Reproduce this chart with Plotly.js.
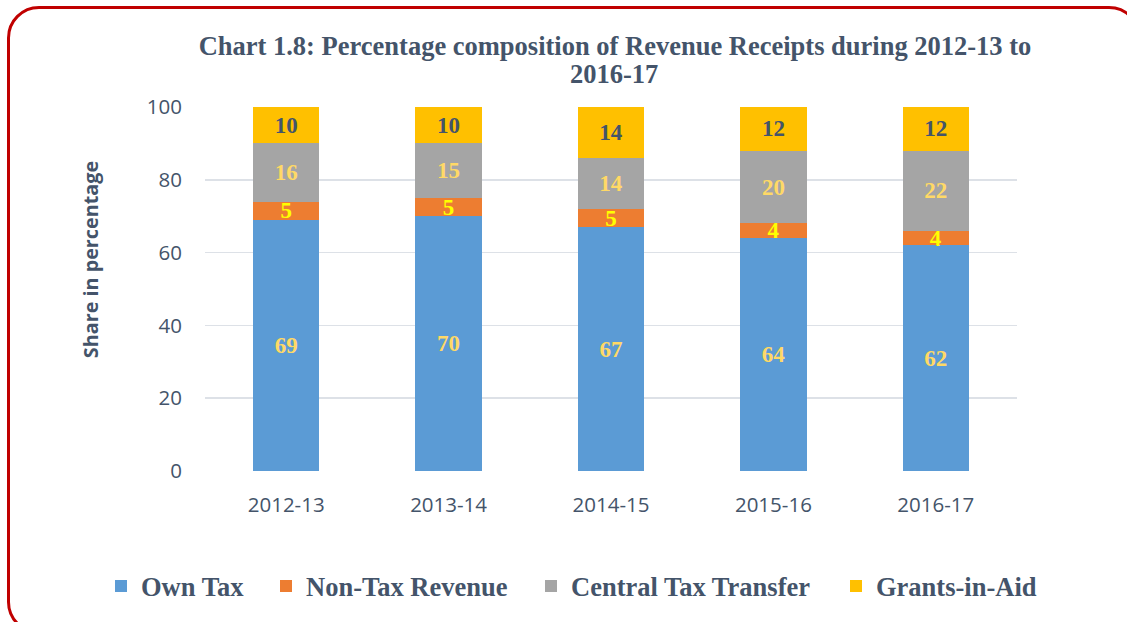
<!DOCTYPE html>
<html>
<head>
<meta charset="utf-8">
<script src="https://cdn.plot.ly/plotly-3.0.1.min.js"></script>
<style>
  html, body { margin: 0; padding: 0; width: 1127px; height: 622px; overflow: hidden; background: #fff; }
  #chart { position: absolute; left: 0; top: 0; width: 1127px; height: 622px; }
  #frame { position: absolute; left: 7px; top: 6px; width: 1134px; height: 628px; box-sizing: border-box;
           border: 3px solid #c00000; border-radius: 32px; pointer-events: none; }
</style>
</head>
<body>
<div id="chart"></div>
<div id="frame"></div>
<script>
const years = ['2012-13', '2013-14', '2014-15', '2015-16', '2016-17'];
const ownTax = [69, 70, 67, 64, 62];
const nonTaxRevenue = [5, 5, 5, 4, 4];
const centralTaxTransfer = [16, 15, 14, 20, 22];
const grantsInAid = [10, 10, 14, 12, 12];
const seriesNames = ['Own Tax', 'Non-Tax Revenue', 'Central Tax Transfer', 'Grants-in-Aid'];
const titleLines = ['Chart 1.8: Percentage composition of Revenue Receipts during 2012-13 to', '2016-17'];
const yTitle = 'Share in percentage';

const seriesValues = [ownTax, nonTaxRevenue, centralTaxTransfer, grantsInAid];
const colors = ['#5b9bd5', '#ed7d31', '#a5a5a5', '#ffc000'];
const labelColors = ['#ffd966', '#ffff00', '#ffd966', '#44546a'];
const legendIds = ['legend', 'legend2', 'legend3', 'legend4'];
// left edge of each legend entry's text, in pixels
const legendTextLeft = [141, 306, 571, 876];

const serif = '"Liberation Serif", "Times New Roman", serif';
const sans = '"Open Sans", sans-serif';
const textColor = '#44546a';

const M = { l: 205, r: 110, t: 107, b: 149 };
const W = 1127, H = 622;
const plotW = W - M.l - M.r, plotH = H - M.t - M.b;
const px2x = (px) => (px - M.l) / plotW;
const py2y = (py) => (H - M.b - py) / plotH;

const traces = seriesValues.map((vals, i) => ({
  type: 'bar',
  name: seriesNames[i],
  legend: legendIds[i],
  x: years,
  y: vals,
  text: vals.map(String),
  texttemplate: '%{text}',
  textposition: 'inside',
  insidetextanchor: 'middle',
  constraintext: 'none',
  textangle: 0,
  textfont: { family: serif, size: 23, color: labelColors[i], weight: 'bold' },
  marker: { color: colors[i], line: { width: 0 } },
  hoverinfo: 'x+y+name'
}));

const layout = {
  width: W,
  height: H,
  barmode: 'stack',
  bargap: 0.59,
  paper_bgcolor: '#ffffff',
  plot_bgcolor: '#ffffff',
  margin: M,
  title: {
    text: '<b>' + titleLines[0] + '</b>',
    font: { family: serif, size: 26.5, color: textColor },
    x: 615 / W, xref: 'container', xanchor: 'center',
    y: 1 - 46 / H, yref: 'container', yanchor: 'middle'
  },
  annotations: [
    {
      text: '<b>' + titleLines[1] + '</b>',
      xref: 'paper', yref: 'paper',
      x: px2x(614), y: py2y(74),
      xanchor: 'center', yanchor: 'middle',
      showarrow: false,
      font: { family: serif, size: 26.5, color: textColor }
    },
    {
      text: '<b>' + yTitle + '</b>',
      xref: 'paper', yref: 'paper',
      x: px2x(90), y: py2y(261),
      xanchor: 'center', yanchor: 'middle',
      textangle: -90,
      showarrow: false,
      font: { family: sans, size: 19.8, color: textColor }
    }
  ],
  xaxis: {
    type: 'category',
    tickfont: { family: sans, size: 20.5, color: textColor },
    showgrid: false,
    showline: false,
    zeroline: false,
    ticks: '',
    ticklabelstandoff: 19
  },
  yaxis: {
    range: [0, 100],
    tickvals: [0, 20, 40, 60, 80, 100],
    tickfont: { family: sans, size: 20.5, color: textColor },
    showgrid: true,
    gridcolor: '#dde1e7',
    gridwidth: 1.5,
    zeroline: false,
    showline: false,
    ticks: '',
    ticklabelstandoff: 22,
    automargin: false
  },
  showlegend: true
};

legendIds.forEach((id, i) => {
  layout[id] = {
    orientation: 'h',
    x: px2x(legendTextLeft[i] - 40), xanchor: 'left',
    y: py2y(589), yanchor: 'middle',
    font: { family: serif, size: 26.5, color: textColor, weight: 'bold' },
    itemwidth: 30,
    borderwidth: 0,
    bgcolor: 'rgba(0,0,0,0)'
  };
});

Plotly.newPlot('chart', traces, layout, { displayModeBar: false, staticPlot: true });
</script>
</body>
</html>
